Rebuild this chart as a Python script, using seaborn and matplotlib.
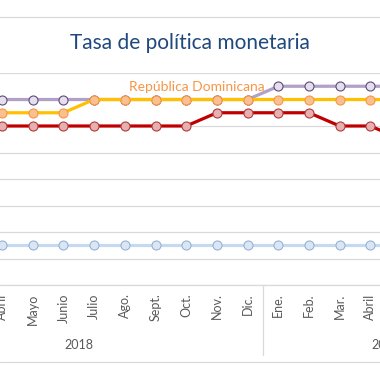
import numpy as np
import pandas as pd
import matplotlib
matplotlib.use("Agg")
import matplotlib.pyplot as plt
import seaborn as sns
from matplotlib.lines import Line2D

# months shown on the axis (Mar. 2018 .. Mayo 2019), index 0 = Abril 2018
months = ["Mar.", "Abril", "Mayo", "Junio", "Julio", "Ago.", "Sept.", "Oct.",
          "Nov.", "Dic.", "Ene.", "Feb.", "Mar.", "Abril", "Mayo"]
idx = list(range(-1, 14))

purple = [5.5, 5.5, 5.5, 5.5, 5.5, 5.5, 5.5, 5.5, 5.5, 5.5, 5.75, 5.75, 5.75, 5.75, 5.75]
rep_dom = [5.25, 5.25, 5.25, 5.25, 5.5, 5.5, 5.5, 5.5, 5.5, 5.5, 5.5, 5.5, 5.5, 5.5, 5.5]
red = [5.0, 5.0, 5.0, 5.0, 5.0, 5.0, 5.0, 5.0, 5.25, 5.25, 5.25, 5.25, 5.0, 5.0, 4.75]
blue = [2.75] * 15

years = ["2018", "2019"]
year_centers = [2.5, 12.5]

df = pd.DataFrame({"idx": idx, "purple": purple, "rep_dom": rep_dom,
                   "red": red, "blue": blue})

sns.set_style("white")
plt.rcParams["font.family"] = ["Lato", "DejaVu Sans"]

fig = plt.figure(figsize=(3.8, 3.71), dpi=100)
ax = fig.add_axes([0, (371 - 285) / 371, 1, 212 / 371])

# drawing order: later series sit on top
styles = {
    "blue": ("#C5D9F1", "#DCE6F2", "#95B3D7"),
    "red": ("#C00000", "#E6B0B0", "#B03A3A"),
    "purple": ("#B1A0C7", "#E4DFEC", "#604A7B"),
    "rep_dom": ("#FFC000", "#FAC090", "#F79646"),
}
for col, (lc, fc, ec) in styles.items():
    sns.lineplot(data=df, x="idx", y=col, ax=ax, color=lc, linewidth=2.3,
                 marker="o", markersize=6.5, markerfacecolor=fc,
                 markeredgecolor=ec, markeredgewidth=0.8)

ax.set_yticks(np.arange(2.0, 6.01, 0.5))
ax.yaxis.grid(True, color="#D9D9D9", linewidth=0.9)
ax.set_axisbelow(True)
ax.set_yticklabels([])
ax.set_xticks(idx)
ax.set_xticklabels(months, rotation=90, color="#595959", fontsize=9)
ax.set_xlim(-2 / 30.7, 378 / 30.7)
ax.set_ylim(2.0, 6.0)
ax.tick_params(axis="both", length=0)
ax.tick_params(axis="x", pad=6)
ax.set_xlabel("")
ax.set_ylabel("")
for s in ["top", "left", "right"]:
    ax.spines[s].set_visible(False)
ax.spines["bottom"].set_color("#D9D9D9")
ax.spines["bottom"].set_linewidth(0.9)

ax.text(8.55, 5.74, "República Dominicana", color="#F79646", fontsize=10,
        ha="right", va="center")

trans = ax.get_xaxis_transform()
for yr, c in zip(years, year_centers):
    ax.text(c, -0.283, yr, transform=trans, ha="center", va="center",
            color="#595959", fontsize=9, clip_on=False)
ax.plot([8.5, 8.5], [0, -0.33], transform=trans, color="#D9D9D9",
        linewidth=0.9, clip_on=False)

fig.add_artist(Line2D([0, 1], [1 - 17 / 371] * 2, color="#D9D9D9", linewidth=0.9))
fig.add_artist(Line2D([0, 1], [9 / 371] * 2, color="#D9D9D9", linewidth=0.9))

fig.text(0.5, 1 - 43 / 371, "Tasa de política monetaria", ha="center",
         va="center", color="#1F497D", fontsize=15)

fig.savefig("out.png", dpi=100)
